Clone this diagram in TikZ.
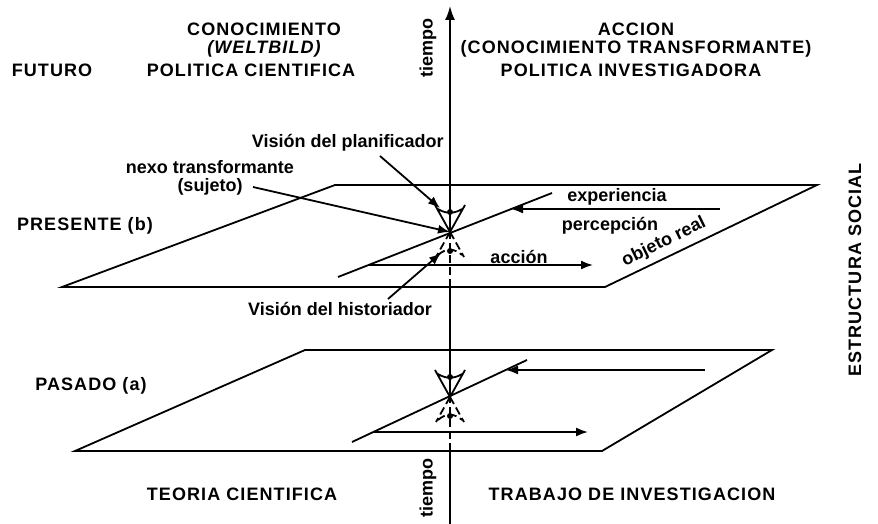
\documentclass[tikz,border=0pt]{standalone}
\usepackage{fontspec}
\setmainfont{Liberation Sans}
\newfontfamily\widefont[LetterSpace=6]{Liberation Sans}
\usepackage{tikz}
\usetikzlibrary{arrows.meta}
\usetikzlibrary{calc, positioning}
\tikzstyle{txt} = [font=\fontsize{9}{10}\selectfont\bfseries, inner sep=1pt]
\tikzstyle{caps} = [font=\widefont\fontsize{9}{10}\selectfont\bfseries, inner sep=1pt]
\tikzstyle{arrow} =[-{Latex[length=6pt, width=4.5pt]}, line width=0.9pt]
\tikzstyle{plane} = [line width=0.9pt, line join=miter]
\newcommand{\drawvision}[2]{\coordinate (#1) at #2;
	\coordinate (#1-up) at ($(#1)+(-10,-24)$);
	\coordinate (#1-dn) at ($(#1)+(-9,21)$);
	\draw[line width=0.9pt] (#1) -- ++(-15,-27) (#1) -- ++(15,-27)
	($(#1)+(-12,-23)$) .. controls ($(#1)+(-4,-18)$) and ($(#1)+(4,-18)$) .. ($(#1)+(12,-23)$);
	\fill ($(#1)+(0,-20)$) circle (3);
	\draw[line width=0.9pt, dash pattern=on 4pt off 2pt] (#1) -- ++(-14,25) (#1) -- ++(14,25)
	($(#1)+(-12,23)$) .. controls ($(#1)+(-4,16)$) and ($(#1)+(4,16)$) .. ($(#1)+(12,23)$);
	\fill ($(#1)+(0,19)$) circle (3)}

\begin{document}
\begin{tikzpicture}[x=0.5pt, y=-0.5pt]
	\useasboundingbox (0,0) rectangle (878,524);
	
	% planos
	\coordinate (bfl) at (62,287);  \coordinate (bbl) at (335,185);
	\coordinate (bbr) at (817,185); \coordinate (bfr) at (605,287);
	\coordinate (afl) at (75,451);  \coordinate (abl) at (305,350);
	\coordinate (abr) at (772,350); \coordinate (afr) at (602,451);
	\draw [plane] (bfl) -- (bbl) -- (bbr) -- (bfr) -- cycle;
	\draw [plane] (afl) -- (abl) -- (abr) -- (afr) -- cycle;
	
	% eje del tiempo
	\coordinate (t0) at (450,524);
	\coordinate (t1) at (450,451);
	\coordinate (t2) at (450,287);
	\coordinate (top) at (450,6);
	\drawvision{ea}{(450,397)};
	\drawvision{eb}{(450,232)};
	\draw [line width=0.9pt] (t0) -- (t1);
	\draw [line width=0.9pt, dash pattern=on 4pt off 2pt] (t1) -- (ea);
	\draw [line width=0.9pt] (ea) -- (t2);
	\draw [line width=0.9pt, dash pattern=on 4pt off 2pt] (t2) -- (eb);
	\draw [-{Latex[length=7pt, width=5pt]}, line width=0.9pt] (eb) -- (top);
	
	% presente
	\coordinate (bd1) at (338,277); \coordinate (bd2) at (552,193);
	\coordinate (be1) at (720,209); \coordinate (be2) at (511,209);
	\coordinate (bc1) at (369,265); \coordinate (bc2) at (593,265);
	\draw [line width=0.9pt] (bd1) -- (bd2);
	\draw [arrow] (be1) -- (be2);
	\draw [arrow] (bc1) -- (bc2);
	
	% pasado
	\coordinate (ad1) at (352,442); \coordinate (ad2) at (527,360);
	\coordinate (ae1) at (705,370); \coordinate (ae2) at (506,370);
	\coordinate (ac1) at (373,432); \coordinate (ac2) at (588,432);
	\draw [line width=0.9pt] (ad1) -- (ad2);
	\draw [arrow] (ae1) -- (ae2);
	\draw [arrow] (ac1) -- (ac2);
	
	% textos
	\node (con) [caps] at (264,29) {CONOCIMIENTO};
	\node (welt) [caps, below=0pt of con] {\itshape (WELTBILD)};
	\node (acc) [caps] at (636,29) {ACCION};
	\node (trans) [caps, below=0pt of acc] {(CONOCIMIENTO TRANSFORMANTE)};
	\node (fut) [caps] at (52,70) {FUTURO};
	\node (polc) [caps] at (251,70) {POLITICA CIENTIFICA};
	\node (poli) [caps] at (631,70) {POLITICA INVESTIGADORA};
	\node (tsup) [txt, rotate=90] at (428,48) {tiempo};
	\node (tinf) [txt, rotate=90] at (428,488) {tiempo};
	\node (pres) [caps] at (85,226) {PRESENTE (b)};
	\node (pas) [caps] at (91,386) {PASADO (a)};
	\node (teo) [caps] at (242,494) {TEORIA CIENTIFICA};
	\node (trab) [caps] at (632,494) {TRABAJO DE INVESTIGACION};
	\node (est) [caps, rotate=90] at (855,270) {ESTRUCTURA SOCIAL};
	\node (exp) [txt] at (617,197) {experiencia};
	\node (perc) [txt] at (610,226) {percepción};
	\node (acci) [txt] at (519,257) {acción};
	\node (obj) [txt, rotate=26] at (664,242) {objeto real};
	
	\node (plan) [txt, anchor=east] at (446,143) {Visión del planificador};
	\node (nexo) [txt] at (210,167) {nexo transformante};
	\node (suj) [txt, below=0pt of nexo] {(sujeto)};
	\node (hist) [txt] at (340,309) {Visión del historiador};
	
	\coordinate (p0) at (380,156);
	\coordinate (n0) at (253,187);
	\coordinate (h0) at (388,299);
	\draw [arrow] (p0) -- (eb-up);
	\draw [arrow] (n0) -- (eb);
	\draw [arrow] (h0) -- (eb-dn);
\end{tikzpicture}
\end{document}
